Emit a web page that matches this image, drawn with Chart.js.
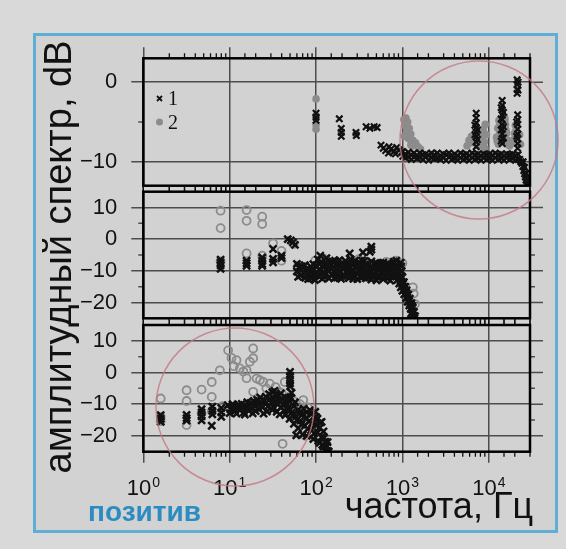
<!DOCTYPE html>
<html>
<head>
<meta charset="utf-8">
<script src="https://cdn.jsdelivr.net/npm/chart.js@4.4.1/dist/chart.umd.min.js"></script>
<style>
  html, body { margin: 0; padding: 0; background: #d9d9d9; }
  #wrap { position: relative; width: 566px; height: 549px; overflow: hidden; }
  #box { position: absolute; left: 33px; top: 33px; width: 519px; height: 494px;
         border: 3px solid #5eaed6; background: #d2d2d2; }
  canvas { position: absolute; left: 0; top: 0; }
</style>
</head>
<body>
<div id="wrap">
  <div id="box"></div>
  <canvas id="c1" width="566" height="549"></canvas>
  <canvas id="c2" width="566" height="549"></canvas>
  <canvas id="c3" width="566" height="549"></canvas>
</div>
<script>
// frequency (Hz), level (dB)

// upper panel: series 1 (crosses) and series 2 (grey dots)
const p1Cross = [
  [100, -3.9], [100, -4.4], [100, -4.8],
  [186, -4.6], [196, -5.8], [196, -6.3], [196, -6.8],
  [290, -6.3], [293, -6.7],
  [380, -5.6], [420, -5.8], [470, -5.6], [510, -5.7],
  [565, -7.9], [600, -8.3], [640, -8.6], [690, -8.9], [700, -8.1], [740, -8.4],
  [800, -8.7], [830, -9.0], [860, -8.2], [920, -8.5], [980, -8.8],
  [1000, -8.7], [1010, -9.3], [1080, -9.0], [1090, -9.5], [1170, -8.8], [1180, -9.4],
  [1260, -9.1], [1270, -9.7], [1360, -8.9], [1370, -9.4], [1470, -9.2], [1480, -9.6],
  [1590, -8.9], [1600, -9.5], [1720, -9.1], [1730, -9.7], [1860, -9.0], [1870, -9.4],
  [2000, -9.2], [2010, -9.8], [2170, -8.9], [2180, -9.5], [2340, -9.1], [2350, -9.6],
  [2530, -8.9], [2540, -9.6], [2740, -9.2], [2750, -9.7], [2960, -9.0], [2970, -9.5],
  [3200, -9.1], [3210, -9.8], [3450, -8.9], [3460, -9.4], [3730, -9.2], [3740, -9.7],
  [4030, -9.0], [4040, -9.6], [4360, -9.2], [4370, -9.8], [4710, -8.9], [4720, -9.5],
  [5090, -9.1], [5100, -9.7], [5500, -9.0], [5510, -9.6], [5940, -9.2], [5950, -9.8],
  [6420, -8.9], [6430, -9.5], [6940, -9.1], [6950, -9.7], [7500, -9.0], [7510, -9.6],
  [8100, -9.2], [8110, -9.8], [8760, -9.0], [8770, -9.5], [9470, -9.1], [9480, -9.7],
  [10200, -9.0], [10210, -9.6], [11000, -9.2], [11010, -9.8], [11900, -8.9], [11910, -9.5],
  [12900, -9.1], [12910, -9.7], [13900, -9.0], [13910, -9.6], [15000, -9.2], [15010, -9.8],
  [16200, -9.0], [16210, -9.5], [17500, -9.1], [17510, -9.7], [18900, -9.0], [18910, -9.6],
  [20400, -9.2], [20410, -9.8], [21900, -9.1], [21910, -9.7],
  [7150, -3.9], [7150, -4.5], [7150, -5.1], [7150, -5.7], [7150, -6.3], [7150, -6.9],
  [7150, -7.5], [7150, -8.1], [6900, -5.4], [6900, -6.6], [7400, -6.0], [7400, -7.2],
  [14300, -2.3], [14300, -2.9], [14300, -3.5], [14300, -4.1], [14300, -4.7], [14300, -5.3],
  [14300, -5.9], [14300, -6.5], [14300, -7.1], [14300, -7.7], [13900, -3.2], [13900, -4.6],
  [13900, -6.0], [13900, -7.4], [14800, -3.8], [14800, -5.6], [14800, -7.0],
  [21600, -4.1], [21600, -4.7], [21600, -5.3], [21600, -5.9], [21600, -6.5], [21600, -7.1],
  [21600, -7.7], [21600, -8.3], [21000, -5.0], [21000, -6.8],
  [21300, 0.3], [21300, -0.3], [21300, -0.9], [21300, -1.4], [21800, 0.0], [21800, -1.0],
  [22800, -9.7], [23500, -10.0], [24200, -10.2], [24800, -10.6], [25400, -11.1], [26000, -11.5],
  [26500, -11.9], [27000, -12.3], [27500, -12.7], [28000, -13.0], [25000, -10.0], [26000, -10.7],
  [27000, -11.5]
];
const p1Dot = [
  [100, -2.1], [100, -4.2], [100, -5.3], [100, -5.9],
  [196, -6.2], [290, -6.5],
  [1040, -4.7], [1100, -4.5], [1150, -5.0], [1080, -5.5], [1200, -5.8], [1120, -6.2],
  [1250, -6.5], [1050, -6.8], [1180, -7.1], [1320, -7.3], [1420, -7.6], [1250, -7.9],
  [1520, -8.1], [1620, -8.4], [1070, -5.2], [1130, -6.0], [1220, -6.9], [1300, -8.0],
  [5600, -8.0], [5900, -7.3], [6300, -6.8], [6600, -7.6], [7700, -6.2], [8100, -6.9],
  [8600, -5.9], [9100, -5.3], [9400, -6.6], [8900, -7.5], [7900, -8.0],
  [6100, -7.6], [7000, -6.5], [8400, -6.3], [9000, -8.3],
  [12300, -6.9], [12700, -5.8], [13100, -4.8], [13400, -6.2], [15200, -4.3], [15600, -5.3],
  [16100, -6.4], [16700, -7.3], [17400, -8.0], [12900, -7.8],
  [12500, -7.4], [13200, -5.5], [15400, -4.7], [15800, -6.0], [16400, -7.8],
  [19300, -7.6], [19900, -6.4], [20300, -5.4], [22800, -6.6], [23300, -7.8],
  [20000, -7.0], [20700, -6.0],
  [2500, -9.4], [4000, -9.5], [10500, -9.3], [18000, -9.4]
];

// middle panel
const p2Cross = [
  [7.85, -6.5], [7.85, -7.4], [7.85, -8.3], [7.85, -9.4],
  [15.7, -6.8], [15.7, -7.6], [15.7, -8.4],
  [23.8, -5.8], [23.8, -6.9], [23.8, -7.9], [23.8, -8.4],
  [31.8, -3.1], [31.8, -6.2], [31.8, -7.3],
  [39.8, -5.2], [39.8, -6.0],
  [47, 0.0], [51, -0.4], [54, -1.0], [57, -1.8],
  [60, -7.8], [60, -10.2], [63, -9.0], [66, -11.4], [69, -8.6], [72, -10.6], [75, -12.2],
  [79, -9.4], [83, -11.0], [87, -8.7], [87, -12.4], [91, -10.1], [95, -11.6], [100, -8.3],
  [100, -10.5], [105, -6.4], [110, -9.6], [110, -11.8], [115, -7.2], [120, -10.4], [126, -8.6],
  [126, -12.0], [132, -6.0], [138, -9.8], [144, -7.4], [151, -11.2], [158, -8.9], [166, -6.8],
  [166, -10.6], [174, -12.1], [182, -8.1], [190, -10.0], [200, -7.5], [200, -11.6], [210, -9.3],
  [219, -6.9], [230, -10.8], [240, -8.4], [240, -12.3], [252, -6.4], [263, -9.9], [275, -7.7],
  [275, -11.4], [288, -8.9], [300, -12.6], [316, -7.3], [316, -10.1], [330, -8.6], [347, -11.8],
  [363, -6.9], [363, -9.6], [380, -12.4], [398, -8.2], [417, -10.5], [437, -7.0], [437, -12.8],
  [457, -9.1], [478, -11.2], [501, -7.6], [501, -13.0], [525, -9.8], [550, -8.1], [550, -11.9],
  [575, -10.4], [603, -7.4], [603, -12.6], [630, -9.2], [661, -11.0], [690, -7.9], [724, -13.1],
  [724, -9.9], [760, -8.4], [794, -11.7], [794, -7.1], [830, -10.2], [871, -12.9], [871, -8.8],
  [910, -11.1], [955, -7.4], [955, -13.2], [980, -10.0],
  [62, -11.9], [68, -9.8], [74, -8.2], [81, -12.6], [85, -9.9], [93, -7.9], [97, -12.9],
  [103, -11.3], [108, -7.8], [118, -12.5], [123, -8.0], [130, -11.0], [135, -8.2], [141, -12.4],
  [148, -9.3], [155, -7.0], [162, -12.3], [170, -8.0], [178, -10.9], [186, -6.6], [195, -12.5],
  [205, -8.6], [215, -11.9], [225, -7.7], [235, -9.6], [247, -10.9], [258, -8.1], [270, -12.5],
  [282, -6.8], [294, -10.6], [308, -8.4], [323, -12.0], [338, -6.7], [355, -10.9], [372, -8.0],
  [390, -10.0], [408, -12.1], [427, -8.9], [447, -11.4], [467, -7.8], [490, -10.2], [513, -12.0],
  [537, -8.7], [562, -7.5], [590, -10.9], [617, -11.8], [645, -8.0], [675, -12.4], [707, -9.0],
  [742, -11.5], [777, -7.7], [812, -9.3], [850, -11.8], [890, -9.6], [930, -12.0], [968, -8.6],
  [112, -5.2], [245, -4.5], [349, -4.2], [437, -2.4], [437, -3.3], [420, -4.0], [850, -6.8],
  [920, -14.0], [960, -15.2], [1000, -12.0], [1000, -16.3], [1040, -13.6], [1050, -17.4],
  [1080, -15.0], [1100, -18.6], [1120, -16.2], [1150, -19.8], [1170, -17.5], [1200, -21.0],
  [1220, -18.8], [1250, -22.1], [1270, -20.2], [1300, -23.2], [1320, -21.6], [1340, -24.2],
  [1360, -23.0], [1380, -25.0], [1400, -24.3],
  [1010, -14.2], [1060, -16.0], [1110, -17.0], [1140, -18.4], [1190, -19.6], [1230, -20.5],
  [1260, -23.5], [1290, -21.0], [1330, -23.0], [1350, -25.0]
];
const p2Ring = [
  [7.85, 9.0], [7.85, 3.5], [7.85, -7.0],
  [15.7, 9.2], [15.7, 5.8], [15.7, -4.5],
  [23.8, 7.1], [23.8, 4.8], [23.8, -5.2],
  [31.8, -1.3], [39.8, -3.7], [39.8, -6.8], [55, -1.5],
  [62, -8.4], [98, -6.8], [125, -6.2], [160, -7.6], [255, -6.6], [312, -6.3], [430, -7.8],
  [650, -7.2], [850, -6.8], [1000, -7.6], [1320, -15.2], [1350, -17.2], [1400, -20.5]
];

// lower panel
const p3Cross = [
  [1.59, -13.5], [1.59, -14.6], [1.59, -15.6],
  [3.17, -13.4], [3.17, -14.4], [3.17, -15.2],
  [4.73, -11.6], [4.73, -12.6], [4.73, -13.8], [4.73, -15.1],
  [6.3, -10.8], [6.3, -12.1], [6.3, -13.2], [6.2, -16.8],
  [8.0, -11.2], [8.0, -12.6], [8.0, -14.0],
  [9.5, -10.3], [10.2, -11.6], [10.8, -10.0], [11.5, -12.2], [12.2, -10.6], [13.0, -11.8],
  [13.8, -9.9], [14.6, -12.6], [15.5, -10.8], [16.5, -11.9], [17.5, -9.6], [18.5, -12.9],
  [19.6, -10.5], [20.8, -8.6], [22, -11.6], [23.3, -9.4], [24.7, -13.0], [26.2, -7.6],
  [27.8, -10.7], [29.4, -8.4], [31.2, -6.2], [31.2, -11.8], [33, -5.8], [33, -9.2], [35, -7.3],
  [35, -12.4], [37, -8.8], [39.2, -6.6], [39.2, -11.0], [41.5, -9.9], [44, -7.8], [44, -13.4],
  [46.6, -11.8], [49.4, -9.1], [49.4, -14.6], [52.3, -12.7], [55.4, -10.6], [55.4, -16.2],
  [58.7, -13.8], [59, -19.8], [62, -11.8], [62, -17.6], [66, -15.2], [70, -13.0], [70, -19.6],
  [74, -16.8], [78, -12.6], [78, -20.0], [83, -15.4], [88, -18.2], [88, -13.2], [93, -21.0],
  [98, -16.4], [98, -12.4], [104, -19.0], [104, -14.6], [110, -22.2], [110, -17.4], [116, -20.4],
  [116, -15.6], [122, -23.4], [122, -18.6], [128, -21.8], [128, -24.6], [134, -23.2], [138, -24.8],
  [10, -12.8], [11, -11.2], [12, -13.0], [12.8, -10.2], [14, -11.0], [15, -13.3], [16, -9.4],
  [17, -10.8], [18, -11.5], [19, -9.0], [20, -12.2], [21.4, -10.1], [22.6, -7.9], [24, -11.0],
  [25.4, -9.0], [27, -12.3], [28.6, -6.8], [30.3, -9.6], [32, -10.9], [34, -7.0], [36, -10.1],
  [38, -13.2], [40.3, -8.3], [42.7, -12.1], [45.3, -9.6], [48, -11.2], [51, -8.0], [54, -13.6],
  [57, -9.4], [60, -15.0], [64, -12.9], [68, -16.4], [72, -11.4], [76, -14.6], [80, -17.8],
  [85, -11.9], [90, -16.0], [95, -19.2], [100, -14.0], [106, -21.6], [112, -15.8], [118, -22.8],
  [124, -20.6], [130, -23.4], [136, -22.0], [140, -25.0],
  [50, 0.2], [50, -1.0], [50, -2.2], [50, -3.4], [50, -4.4], [48, -8.0], [52, -6.4]
];
const p3Ring = [
  [1.59, -8.2], [1.59, -14.0], [1.59, -15.3],
  [3.17, -5.6], [3.17, -9.0], [3.17, -16.6],
  [4.73, -5.4], [4.73, -12.9],
  [6.2, -3.0], [6.2, -7.7], [6.2, -12.2],
  [7.7, 0.7], [8.3, -10.6],
  [9.6, 7.0], [10.5, 4.6], [11.2, 2.0], [12, 3.9], [13.1, 1.3], [14.4, 0.3], [15.7, 0.7],
  [15.7, -1.8], [17.1, 3.4], [18.7, 7.6], [18.7, 4.5], [18.7, -6.1], [20.5, -1.9], [22.4, -2.4],
  [24.5, -3.0], [26.6, -5.0], [29.1, -3.5], [31.5, -7.0], [34, -4.6], [37, -6.0], [40, -6.5],
  [43.5, -3.0], [46, -8.4], [48, -7.8], [52, -10.2], [55, -9.0], [60, -11.6], [65, -10.0],
  [71, -8.7], [76, -12.4], [80, -11.0], [41, -22.5], [75, -20.0], [90, -14.8]
];

const xDecades = [0, 1, 2, 3, 4];      // tick labels 10^n
const xLimits = [1, 30000];
const yLimitsTop = [-13, 3];
const yLimitsLow = [-25, 15];
const legendLabels = ['1', '2'];
const yTitle = 'амплитудный спектр, dB';
const xTitle = 'частота, Гц';
const cornerText = 'позитив';

const SANS = '"Liberation Sans", Arial, Helvetica, sans-serif';
const SERIF = '"Liberation Serif", "Times New Roman", serif';
const GRID = '#4d4d4d';
const INK = '#111';
const GREY = '#8c8c8c';

const isDecade = v => Math.abs(Math.log10(v) - Math.round(Math.log10(v))) < 1e-9;
const toXY = arr => arr.map(d => ({ x: d[0], y: d[1] }));

// layout of the three panels in page pixels
const panels = [
  { id: 'c1', top: 58.3, bottom: 185.7, lim: yLimitsTop, cross: p1Cross, grey: p1Dot,
    filled: true, axis: 'top', tTop: 5, tBottom: 6 },
  { id: 'c2', top: 191.7, bottom: 318.3, lim: yLimitsLow, cross: p2Cross, grey: p2Ring,
    filled: false, axis: 'none', tTop: 6, tBottom: 6 },
  { id: 'c3', top: 325, bottom: 451.7, lim: yLimitsLow, cross: p3Cross, grey: p3Ring,
    filled: false, axis: 'bottom', tTop: 6, tBottom: 5 }
];
const plotLeft = 143.3, plotRight = 530, yAxisW = 72, xAxisH = 11;

const isMajorY = (v, lim) => v % 10 === 0 && v > lim[0] && v < lim[1];

// frame, minor ticks and outside grid stubs
const panelDeco = {
  id: 'panelDeco',
  afterDatasetsDraw(chart, args, opts) {
    const p = opts.panel;
    const { ctx, chartArea: a } = chart;
    const x = chart.scales.x, y = chart.scales.y;
    ctx.save();
    ctx.strokeStyle = GRID;
    ctx.lineWidth = 1.5;
    ctx.beginPath();
    y.ticks.forEach(t => {
      const py = y.getPixelForValue(t.value);
      if (isMajorY(t.value, p.lim)) {
        ctx.moveTo(a.right, py); ctx.lineTo(a.right + 13, py);
      } else if (t.value > p.lim[0] && t.value < p.lim[1]) {
        ctx.moveTo(a.left - 5, py); ctx.lineTo(a.left, py);
        ctx.moveTo(a.right, py); ctx.lineTo(a.right + 5, py);
      }
    });
    ctx.stroke();

    ctx.strokeStyle = INK;
    ctx.lineWidth = 1.3;
    ctx.beginPath();
    x.ticks.forEach(t => {
      const px = x.getPixelForValue(t.value);
      const dec = isDecade(t.value);
      if (p.axis !== 'top' || !dec) { ctx.moveTo(px, a.top - p.tTop); ctx.lineTo(px, a.top); }
      if (p.axis !== 'bottom' || !dec) { ctx.moveTo(px, a.bottom); ctx.lineTo(px, a.bottom + p.tBottom); }
    });
    ctx.stroke();

    ctx.strokeStyle = '#000';
    ctx.lineWidth = 2.5;
    ctx.strokeRect(a.left, a.top, a.right - a.left, a.bottom - a.top);
    ctx.restore();
  }
};

// legend inside the upper panel
const legendDeco = {
  id: 'legendDeco',
  afterDraw(chart) {
    const ctx = chart.ctx;
    ctx.save();
    ctx.strokeStyle = INK; ctx.lineWidth = 1.8;
    ctx.beginPath();
    ctx.moveTo(157, 96); ctx.lineTo(162, 101);
    ctx.moveTo(162, 96); ctx.lineTo(157, 101);
    ctx.stroke();
    ctx.fillStyle = GREY;
    ctx.beginPath(); ctx.arc(159.5, 122, 3.5, 0, Math.PI * 2); ctx.fill();
    ctx.fillStyle = INK;
    ctx.font = '20px ' + SERIF;
    ctx.textBaseline = 'alphabetic';
    ctx.fillText(legendLabels[0], 168, 105);
    ctx.fillText(legendLabels[1], 168, 129);
    ctx.restore();
  }
};

// x tick labels, axis titles, caption and the two highlight circles
const pageDeco = {
  id: 'pageDeco',
  afterDraw(chart) {
    const ctx = chart.ctx;
    const x = chart.scales.x;
    ctx.save();
    ctx.fillStyle = INK;
    ctx.textBaseline = 'alphabetic';
    xDecades.forEach(n => {
      const px = x.getPixelForValue(Math.pow(10, n));
      ctx.font = '22px ' + SANS;
      const w1 = ctx.measureText('10').width;
      ctx.font = '14px ' + SANS;
      const w2 = ctx.measureText(String(n)).width;
      const sx = px - (w1 + w2 + 1) / 2;
      ctx.font = '22px ' + SANS;
      ctx.fillText('10', sx, 495);
      ctx.font = '14px ' + SANS;
      ctx.fillText(String(n), sx + w1 + 1, 486.5);
    });

    ctx.font = '36px ' + SANS;
    ctx.textAlign = 'right';
    ctx.fillText(xTitle, 533, 518);

    ctx.save();
    ctx.translate(71, 257);
    ctx.rotate(-Math.PI / 2);
    ctx.textAlign = 'center';
    ctx.font = '38px ' + SANS;
    ctx.fillText(yTitle, 0, 0);
    ctx.restore();

    ctx.textAlign = 'left';
    ctx.font = 'bold 28px ' + SANS;
    ctx.fillStyle = '#2b8cc2';
    ctx.fillText(cornerText, 88, 521);

    ctx.strokeStyle = 'rgba(196, 120, 130, 0.8)';
    ctx.lineWidth = 1.5;
    ctx.beginPath(); ctx.arc(479, 140, 79, 0, Math.PI * 2); ctx.stroke();
    ctx.beginPath(); ctx.arc(235, 407, 79, 0, Math.PI * 2); ctx.stroke();
    ctx.restore();
  }
};

panels.forEach((p, i) => {
  const xh = p.axis === 'none' ? 0 : xAxisH;
  const padTop = p.axis === 'top' ? p.top - xh : p.top;
  const padBottom = p.axis === 'bottom' ? 549 - p.bottom - xh : 549 - p.bottom;
  const gridCol = c => (c.tick && isDecade(c.tick.value)) ? GRID : 'rgba(0,0,0,0)';
  const yCol = c => (c.tick && isMajorY(c.tick.value, p.lim)) ? GRID : 'rgba(0,0,0,0)';

  const plugins = [panelDeco];
  if (i === 0) plugins.push(legendDeco);
  if (i === 2) plugins.push(pageDeco);

  new Chart(document.getElementById(p.id), {
    type: 'scatter',
    data: {
      datasets: [
        {
          label: legendLabels[0],
          data: toXY(p.cross),
          pointStyle: 'crossRot',
          pointRadius: p.filled ? 4.5 : 5,
          borderWidth: p.filled ? 2.2 : 2.5,
          borderColor: INK,
          backgroundColor: INK
        },
        {
          label: legendLabels[1],
          data: toXY(p.grey),
          pointStyle: 'circle',
          pointRadius: p.filled ? 3.8 : 4,
          borderWidth: p.filled ? 0 : 1.8,
          borderColor: GREY,
          backgroundColor: p.filled ? GREY : 'rgba(0,0,0,0)'
        }
      ]
    },
    options: {
      responsive: false,
      devicePixelRatio: 1,
      animation: false,
      events: [],
      layout: {
        padding: { left: plotLeft - yAxisW, right: 566 - plotRight, top: padTop, bottom: padBottom }
      },
      plugins: {
        legend: { display: false },
        tooltip: { enabled: false },
        panelDeco: { panel: p }
      },
      scales: {
        x: {
          type: 'logarithmic',
          min: xLimits[0],
          max: xLimits[1],
          position: p.axis === 'top' ? 'top' : 'bottom',
          afterFit: s => { s.height = xh; },
          ticks: { display: false, autoSkip: false },
          grid: {
            color: gridCol,
            tickColor: gridCol,
            lineWidth: 1.5,
            drawTicks: p.axis !== 'none',
            tickLength: 11
          },
          border: { display: false }
        },
        y: {
          min: p.lim[0],
          max: p.lim[1],
          afterFit: s => { s.width = yAxisW; },
          ticks: {
            stepSize: 5,
            includeBounds: false,
            autoSkip: false,
            padding: 14,
            color: INK,
            font: { family: SANS, size: 22 },
            callback: v => (v % 10 === 0 ? (v < 0 ? '\u2212' + (-v) : String(v)) : '')
          },
          grid: {
            color: yCol,
            tickColor: yCol,
            lineWidth: 1.5,
            tickLength: 12
          },
          border: { display: false }
        }
      }
    },
    plugins: plugins
  });
});
</script>
</body>
</html>
